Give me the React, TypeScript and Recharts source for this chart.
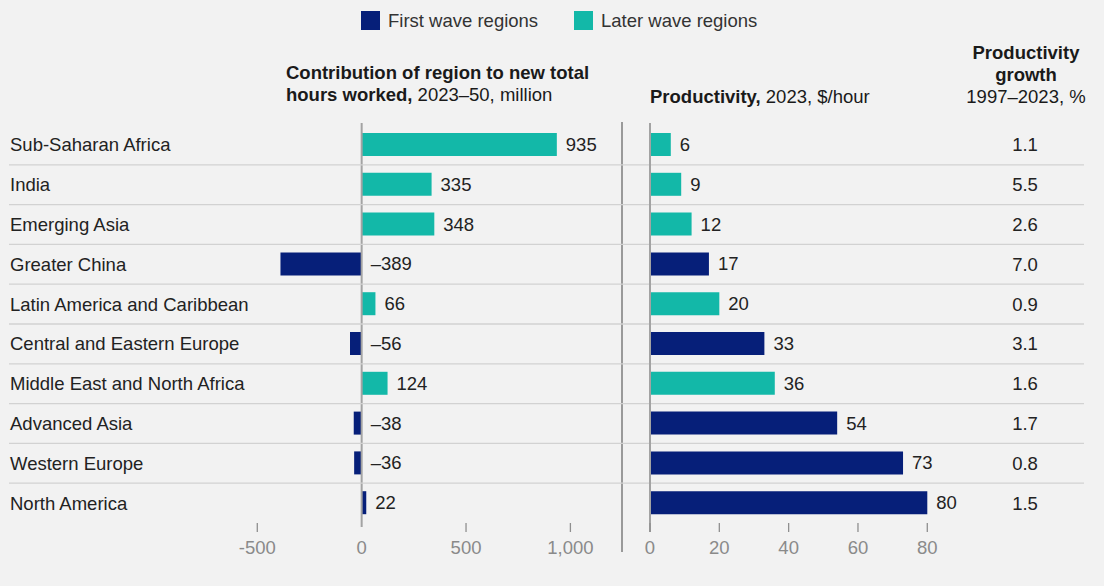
import React from "react";
import { BarChart, Bar, XAxis, YAxis, Cell, LabelList } from "recharts";

const regions = [
  "Sub-Saharan Africa",
  "India",
  "Emerging Asia",
  "Greater China",
  "Latin America and Caribbean",
  "Central and Eastern Europe",
  "Middle East and North Africa",
  "Advanced Asia",
  "Western Europe",
  "North America",
];
const wave = ["later", "later", "later", "first", "later", "first", "later", "first", "first", "first"];
const hours = [935, 335, 348, -389, 66, -56, 124, -38, -36, 22];
const productivity = [6, 9, 12, 17, 20, 33, 36, 54, 73, 80];
const growth = ["1.1", "5.5", "2.6", "7.0", "0.9", "3.1", "1.6", "1.7", "0.8", "1.5"];
const hoursTicks = [-500, 0, 500, 1000];
const prodTicks = [0, 20, 40, 60, 80];

const NAVY = "#061f79";
const TEAL = "#13b8a8";
const FONT = "'Liberation Sans', Arial, sans-serif";
const FS = 18.5;
const W = 1104;
const H = 586;
const PLOT_TOP = 125;
const PLOT_BOTTOM = 523;
const ROW_H = (PLOT_BOTTOM - PLOT_TOP) / regions.length;

const data = regions.map((r, i) => ({
  region: r,
  wave: wave[i],
  hours: hours[i],
  productivity: productivity[i],
  growth: growth[i],
}));

const color = (w: string) => (w === "first" ? NAVY : TEAL);

const fmtHours = (v: number) => {
  const s = Math.abs(v).toLocaleString("en-US");
  return v < 0 ? "\u2013" + s : s;
};

const RegionTick = (props: any) => {
  const { y, payload, index } = props;
  return (
    <g>
      {index > 0 && (
        <line x1={9} x2={1084} y1={y - ROW_H / 2} y2={y - ROW_H / 2} stroke="#d2d2d2" strokeWidth={1.3} />
      )}
      <text x={10} y={y + 6.5} fill="#222" fontSize={FS} fontFamily={FONT} textAnchor="start">
        {payload.value}
      </text>
    </g>
  );
};

const GrowthTick = (props: any) => {
  const { y, index } = props;
  return (
    <text x={1025} y={y + 6.5} fill="#222" fontSize={FS} fontFamily={FONT} textAnchor="middle">
      {growth[index]}
    </text>
  );
};

const makeXTick = (fmt: (v: number) => string, zeroBottom: number, markZero: boolean) => (props: any) => {
  const { x, payload } = props;
  const v = payload.value as number;
  return (
    <g>
      {v === 0 && <line x1={x} x2={x} y1={123} y2={zeroBottom} stroke="#a3a3a3" strokeWidth={2} />}
      {(v !== 0 || markZero) && <line x1={x} x2={x} y1={PLOT_BOTTOM} y2={532} stroke="#8f8f8f" strokeWidth={1.3} />}
      <text x={x} y={554} fill="#8a8a8a" fontSize={FS} fontFamily={FONT} textAnchor="middle">
        {fmt(v)}
      </text>
    </g>
  );
};

const HoursXTick = makeXTick((v) => (v < 0 ? "-" + Math.abs(v) : v.toLocaleString("en-US")), 527, false);
const ProdXTick = makeXTick((v) => String(v), 532, true);

const makeValueLabel = (fmt: (v: number) => string) => (props: any) => {
  const x = Number(props.x);
  const w = Number(props.width);
  const y = Number(props.y);
  const h = Number(props.height);
  const right = Math.max(x, x + w);
  return (
    <text x={right + 9} y={y + h / 2 + 6.5} fill="#222" fontSize={FS} fontFamily={FONT} textAnchor="start">
      {fmt(Number(props.value))}
    </text>
  );
};

const HoursLabel = makeValueLabel(fmtHours);
const ProdLabel = makeValueLabel((v) => String(v));

export default function App() {
  return (
    <div
      style={{
        position: "relative",
        width: W,
        height: H,
        background: "#f2f2f2",
        fontFamily: FONT,
        color: "#1a1a1a",
        overflow: "hidden",
      }}
    >
      <style>{`body{margin:0;background:#f2f2f2;}`}</style>

      {/* Legend */}
      <div style={{ position: "absolute", left: 361, top: 11, width: 19, height: 19, background: NAVY }} />
      <div style={{ position: "absolute", left: 388, top: 11, fontSize: FS, lineHeight: "19px", color: "#333", whiteSpace: "nowrap" }}>
        First wave regions
      </div>
      <div style={{ position: "absolute", left: 574, top: 11, width: 19, height: 19, background: TEAL }} />
      <div style={{ position: "absolute", left: 601, top: 11, fontSize: FS, lineHeight: "19px", color: "#333", whiteSpace: "nowrap" }}>
        Later wave regions
      </div>

      {/* Headers */}
      <div style={{ position: "absolute", left: 286, top: 62, fontSize: FS, lineHeight: "21.5px", whiteSpace: "nowrap" }}>
        <b>Contribution of region to new total</b>
        <br />
        <b>hours worked,</b> 2023{"\u2013"}50, million
      </div>
      <div style={{ position: "absolute", left: 650, top: 86, fontSize: FS, lineHeight: "21.5px", whiteSpace: "nowrap" }}>
        <b>Productivity,</b> 2023, $/hour
      </div>
      <div
        style={{
          position: "absolute",
          left: 926,
          width: 200,
          top: 41.5,
          fontSize: FS,
          lineHeight: "22px",
          textAlign: "center",
          whiteSpace: "nowrap",
        }}
      >
        <b>Productivity</b>
        <br />
        <b>growth</b>
        <br />
        1997{"\u2013"}2023, %
      </div>

      {/* Column divider */}
      <div style={{ position: "absolute", left: 621, top: 122, width: 1.5, height: 430, background: "#9a9a9a" }} />

      {/* Left chart: hours */}
      <div style={{ position: "absolute", left: 0, top: 0 }}>
        <BarChart
          width={W}
          height={H}
          data={data}
          layout="vertical"
          margin={{ top: PLOT_TOP, right: W - 570.4, bottom: 0, left: 0 }}
          barSize={23}
        >
          <XAxis
            type="number"
            domain={[-500, 1000]}
            ticks={hoursTicks}
            axisLine={false}
            tickLine={false}
            height={H - PLOT_BOTTOM}
            tick={<HoursXTick />}
            interval={0}
          />
          <YAxis
            type="category"
            dataKey="region"
            width={257.3}
            axisLine={false}
            tickLine={false}
            interval={0}
            tick={<RegionTick />}
          />
          <Bar dataKey="hours" isAnimationActive={false}>
            {data.map((d, i) => (
              <Cell key={i} fill={color(d.wave)} />
            ))}
            <LabelList dataKey="hours" content={<HoursLabel />} />
          </Bar>
        </BarChart>
      </div>

      {/* Right chart: productivity */}
      <div style={{ position: "absolute", left: 0, top: 0 }}>
        <BarChart
          width={W}
          height={H}
          data={data}
          layout="vertical"
          margin={{ top: PLOT_TOP, right: 0, bottom: 0, left: 650 }}
          barSize={23}
        >
          <XAxis
            type="number"
            domain={[0, 80]}
            ticks={prodTicks}
            axisLine={false}
            tickLine={false}
            height={H - PLOT_BOTTOM}
            tick={<ProdXTick />}
            interval={0}
          />
          <YAxis
            type="category"
            dataKey="region"
            orientation="right"
            width={W - 927.3}
            axisLine={false}
            tickLine={false}
            interval={0}
            tick={<GrowthTick />}
          />
          <Bar dataKey="productivity" isAnimationActive={false}>
            {data.map((d, i) => (
              <Cell key={i} fill={color(d.wave)} />
            ))}
            <LabelList dataKey="productivity" content={<ProdLabel />} />
          </Bar>
        </BarChart>
      </div>
    </div>
  );
}
